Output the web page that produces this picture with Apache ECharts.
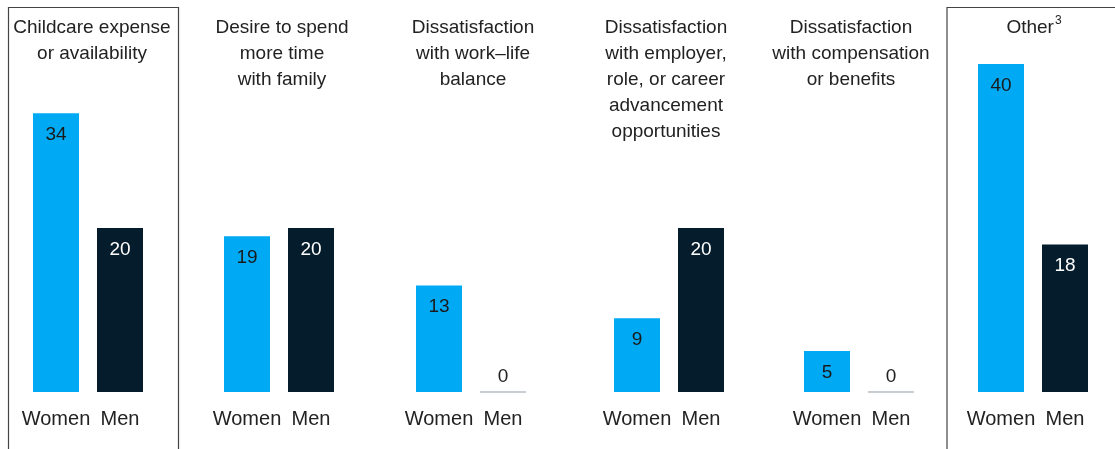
<!DOCTYPE html>
<html>
<head>
<meta charset="utf-8">
<script src="https://cdn.jsdelivr.net/npm/echarts@6/dist/echarts.min.js"></script>
<style>
html,body{margin:0;padding:0;background:#fff;}
#chart{width:1115px;height:449px;}
</style>
</head>
<body>
<div id="chart"></div>
<script>
var categories = ['Women', 'Men'];
var panelTitles = [
  'Childcare expense\nor availability',
  'Desire to spend\nmore time\nwith family',
  'Dissatisfaction\nwith work\u2013life\nbalance',
  'Dissatisfaction\nwith employer,\nrole, or career\nadvancement\nopportunities',
  'Dissatisfaction\nwith compensation\nor benefits',
  'Other{sup|3}'
];
var women = [34, 19, 13, 9, 5, 40];
var men = [20, 20, 0, 20, 0, 18];

var FONT = '"Liberation Sans", Arial, Helvetica, sans-serif';
var BLUE = '#00a9f4';
var NAVY = '#051c2c';
var gridLefts = [24, 215, 407, 605, 795, 969];
var titleCenters = [92, 282, 473, 666, 851, 1034];

function item(v, color, labelColor) {
  if (v === 0) {
    return {
      value: v,
      itemStyle: { color: 'rgba(0,0,0,0)', borderColor: '#b5bdc4', borderWidth: 1 },
      label: { position: 'top', distance: 5, color: '#222' }
    };
  }
  return {
    value: v,
    itemStyle: { color: color },
    label: { position: 'insideTop', distance: 12, color: labelColor }
  };
}

var grids = [], xAxes = [], yAxes = [], series = [], titles = [];
for (var i = 0; i < 6; i++) {
  grids.push({ left: gridLefts[i], width: 128, top: 64, height: 328 });
  xAxes.push({
    type: 'category', gridIndex: i, data: categories,
    axisLine: { show: false }, axisTick: { show: false },
    axisLabel: { interval: 0, hideOverlap: false, color: '#222', fontSize: 20, fontFamily: FONT, margin: 17 }
  });
  yAxes.push({ type: 'value', gridIndex: i, min: 0, max: 40, show: false, splitLine: { show: false } });
  series.push({
    type: 'bar', xAxisIndex: i, yAxisIndex: i, barWidth: 46,
    silent: true, animation: false,
    label: { show: true, fontSize: 19, fontFamily: FONT },
    data: [item(women[i], BLUE, '#1a1a1a'), item(men[i], NAVY, '#ffffff')]
  });
  titles.push({
    text: panelTitles[i], left: titleCenters[i], top: 15, padding: 0,
    textAlign: 'center',
    textStyle: {
      fontSize: 19, fontWeight: 'normal', color: '#222', fontFamily: FONT, lineHeight: 26,
      rich: { sup: { fontSize: 12, fontFamily: FONT, color: '#222', verticalAlign: 'top', lineHeight: 26, padding: [0, 0, 0, 1] } }
    }
  });
}

var chart = echarts.init(document.getElementById('chart'));
chart.setOption({
  animation: false,
  backgroundColor: '#ffffff',
  title: titles,
  grid: grids,
  xAxis: xAxes,
  yAxis: yAxes,
  series: series,
  graphic: [
    { type: 'polyline', shape: { points: [[8.5, 449], [8.5, 7.5], [178.5, 7.5], [178.5, 449]] },
      style: { stroke: '#444', lineWidth: 1.2, fill: null }, silent: true },
    { type: 'polyline', shape: { points: [[947, 449], [947, 7.5], [1115, 7.5]] },
      style: { stroke: '#444', lineWidth: 1.2, fill: null }, silent: true }
  ]
});
</script>
</body>
</html>
